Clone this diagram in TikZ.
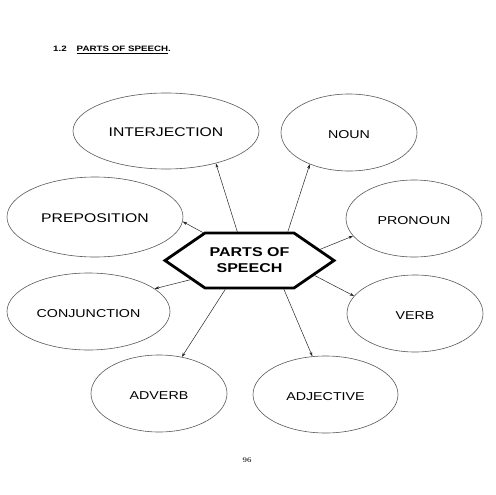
\documentclass[tikz,border=0pt]{standalone}
\usepackage{fontspec}
\setmainfont{Liberation Sans}[FakeStretch=1.25]
\newfontfamily\pgnum{Liberation Serif}[FakeStretch=1.25]
\usetikzlibrary{shapes.geometric,shapes.symbols,arrows.meta}
\begin{document}
\begin{tikzpicture}[x=1pt,y=-1pt,
  part/.style={ellipse, draw=black!65, line width=0.6pt, inner sep=0pt,
    minimum height=77, text height=1.1em, text depth=0pt},
  bigtxt/.style={font=\fontsize{12.6}{15}\selectfont},
  smalltxt/.style={font=\fontsize{11.4}{14}\selectfont},
  conn/.style={-{Stealth[length=4.5pt,width=3pt]}, line width=0.5pt, draw=black!85}]
\useasboundingbox (0,0) rectangle (495,495);
\fill[white] (0,0) rectangle (495,495);

\node[anchor=west, inner sep=0pt, font=\bfseries\fontsize{7.8}{9}\selectfont] (title) at (53,50) {1.2\hspace{10pt}\underline{PARTS OF SPEECH}.};

\node[part, bigtxt, minimum width=186, minimum height=76] (interj) at (166,131) {INTERJECTION};
\node[part, bigtxt, minimum width=176, minimum height=80] (prep) at (95,217) {PREPOSITION};
\node[part, smalltxt, minimum width=136] (noun) at (349,132.5) {NOUN};
\node[part, smalltxt, minimum width=136] (pronoun) at (414,218.5) {PRONOUN};
\node[part, smalltxt, minimum width=163] (conj) at (88.5,311.5) {CONJUNCTION};
\node[part, smalltxt, minimum width=136] (verb) at (415,313.5) {VERB};
\node[part, smalltxt, minimum width=136] (adverb) at (159,393.5) {ADVERB};
\node[part, smalltxt, minimum width=145] (adj) at (325.5,394.5) {ADJECTIVE};

\node[signal, signal to=west and east, signal pointer angle=69, draw, line width=2.8pt,
  minimum width=169, minimum height=55, inner sep=0pt, align=center,
  font=\bfseries\fontsize{12.8}{16}\selectfont] (hex) at (249.5,260.5) {PARTS OF\\SPEECH};

\draw[conn] (hex.113.7) -- (interj.-33.4);
\draw[conn] (hex.37.2) -- (noun.-141);
\draw[conn] (hex.9.8) -- (pronoun.196.2);
\draw[conn] (hex.149.9) -- (prep.-3.9);
\draw[conn] (hex.198.1) -- (conj.19.7);
\draw[conn] (hex.-13.3) -- (verb.164);
\draw[conn] (hex.-130.7) -- (adverb.58.1);
\draw[conn] (hex.-40.4) -- (adj.109.7);

\node[font=\pgnum\fontsize{7}{8}\selectfont] (page) at (247,460) {96};
\end{tikzpicture}
\end{document}
